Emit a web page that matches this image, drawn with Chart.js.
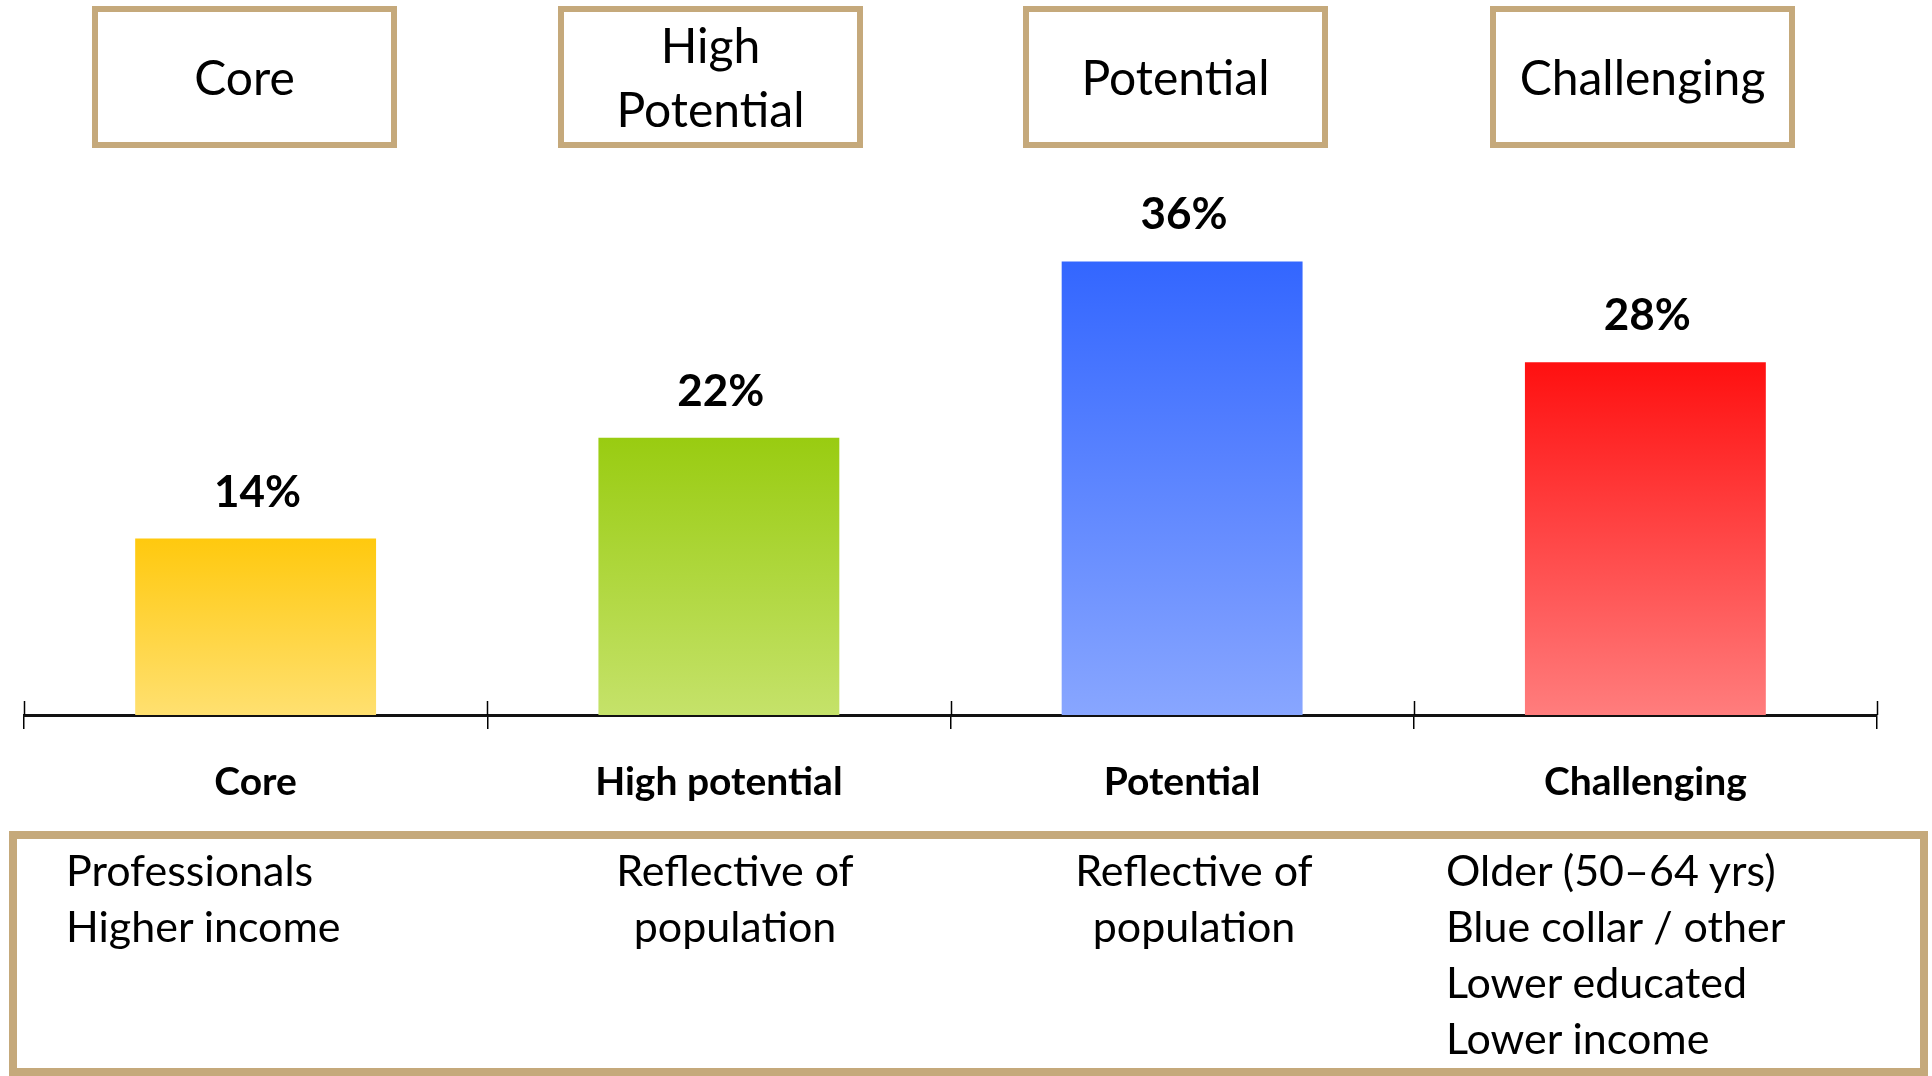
<!DOCTYPE html>
<html><head><meta charset="utf-8">
<script src="https://cdn.jsdelivr.net/npm/chart.js@4.4.1/dist/chart.umd.min.js"></script>
<style>
html,body{margin:0;padding:0;background:#fff;}
body{width:1932px;height:1076px;position:relative;overflow:hidden;font-family:Lato,'Open Sans',sans-serif;color:#000;}
#wrap{position:absolute;left:0;top:0;width:1932px;height:1076px;}
.tbox{position:absolute;top:6px;width:305px;height:142px;box-sizing:border-box;border:6px solid #C5A97B;display:flex;align-items:center;justify-content:center;text-align:center;font-size:48px;line-height:64px;}
#bbox{position:absolute;left:9px;top:831px;width:1919px;height:245px;box-sizing:border-box;border:8px solid #C5A97B;}
.desc{position:absolute;top:842px;font-size:43px;line-height:56px;white-space:nowrap;}
</style></head>
<body>
<div id="wrap"><canvas id="c" width="1932" height="1076"></canvas></div>
<div id="bbox"></div>
<div id="overlay"></div>
<script>
// ---- data ----
const categories = ['Core', 'High potential', 'Potential', 'Challenging'];
const shares = [14, 22, 36, 28];
const shareLabels = ['14%', '22%', '36%', '28%'];
const segmentTitles = [['Core'], ['High', 'Potential'], ['Potential'], ['Challenging']];
const descriptions = [
  ['Professionals', 'Higher income'],
  ['Reflective of', 'population'],
  ['Reflective of', 'population'],
  ['Older (50–64 yrs)', 'Blue collar / other', 'Lower educated', 'Lower income']
];
const yMin = 0, yMax = 40;

// ---- styles ----
const FONT = "Lato, 'Open Sans', sans-serif";
const topColors = ['#FFC90E', '#99CC11', '#3366FF', '#FF1010'];
const bottomColors = ['#FFE070', '#C5E26A', '#88A6FF', '#FF7D7D'];
const titleBoxLeft = [92, 558, 1023, 1490];
const descLayout = [
  {left: 66, align: 'left'},
  {center: 735, align: 'center'},
  {center: 1194, align: 'center'},
  {left: 1446, align: 'left'}
];

// ---- HTML boxes ----
const overlay = document.getElementById('overlay');
segmentTitles.forEach((lines, i) => {
  const d = document.createElement('div');
  d.className = 'tbox';
  d.style.left = titleBoxLeft[i] + 'px';
  const inner = document.createElement('div');
  inner.innerHTML = lines.map(s => s.replace(/&/g,'&amp;').replace(/</g,'&lt;')).join('<br>');
  d.appendChild(inner);
  overlay.appendChild(d);
});
descriptions.forEach((lines, i) => {
  const d = document.createElement('div');
  d.className = 'desc';
  const L = descLayout[i];
  if (L.align === 'left') { d.style.left = L.left + 'px'; d.style.textAlign = 'left'; }
  else { d.style.left = (L.center - 250) + 'px'; d.style.width = '500px'; d.style.textAlign = 'center'; }
  d.innerHTML = lines.join('<br>');
  overlay.appendChild(d);
});

// ---- plugins ----
const valueLabels = {
  id: 'valueLabels',
  afterDatasetsDraw(chart) {
    const ctx = chart.ctx;
    const meta = chart.getDatasetMeta(0);
    ctx.save();
    ctx.font = 'bold 44px ' + FONT;
    ctx.fillStyle = '#000';
    ctx.textAlign = 'center';
    ctx.textBaseline = 'alphabetic';
    meta.data.forEach((bar, i) => {
      ctx.fillText(shareLabels[i], bar.x + 2, bar.y - 32);
    });
    ctx.restore();
  }
};
const upTicks = {
  id: 'upTicks',
  afterDraw(chart) {
    const xs = chart.scales.x;
    const ctx = chart.ctx;
    const n = categories.length;
    ctx.save();
    ctx.strokeStyle = '#000';
    ctx.lineWidth = 1.5;
    for (let k = 0; k <= n; k++) {
      const x = Math.round(xs.getPixelForValue(k - 0.5)) + 0.5;
      ctx.beginPath();
      ctx.moveTo(x, xs.top - 14);
      ctx.lineTo(x, xs.top);
      ctx.stroke();
    }
    ctx.restore();
  }
};

function barFill(c) {
  const i = c.dataIndex ?? 0;
  const chart = c.chart;
  const area = chart.chartArea;
  if (!area || !chart.scales.y) return topColors[i];
  const y = chart.scales.y.getPixelForValue(shares[i]);
  const g = chart.ctx.createLinearGradient(0, y, 0, area.bottom);
  g.addColorStop(0, topColors[i]);
  g.addColorStop(1, bottomColors[i]);
  return g;
}

new Chart(document.getElementById('c'), {
  type: 'bar',
  data: {
    labels: categories,
    datasets: [{
      data: shares,
      backgroundColor: barFill,
      borderWidth: 0,
      barPercentage: 0.52,
      categoryPercentage: 1
    }]
  },
  options: {
    responsive: false,
    animation: false,
    devicePixelRatio: 1,
    layout: {padding: {left: 24, right: 55, top: 211, bottom: 0}},
    plugins: {legend: {display: false}, tooltip: {enabled: false}},
    scales: {
      y: {display: false, min: yMin, max: yMax},
      x: {
        grid: {display: true, drawOnChartArea: false, drawTicks: true, tickLength: 14, color: '#000', lineWidth: 1.5, offset: true},
        border: {display: true, color: '#111', width: 3},
        ticks: {font: {family: FONT, size: 39, weight: 'bold'}, color: '#000', padding: 30},
        afterFit(s) { s.height = 361; }
      }
    }
  },
  plugins: [valueLabels, upTicks]
});
</script>
</body></html>
